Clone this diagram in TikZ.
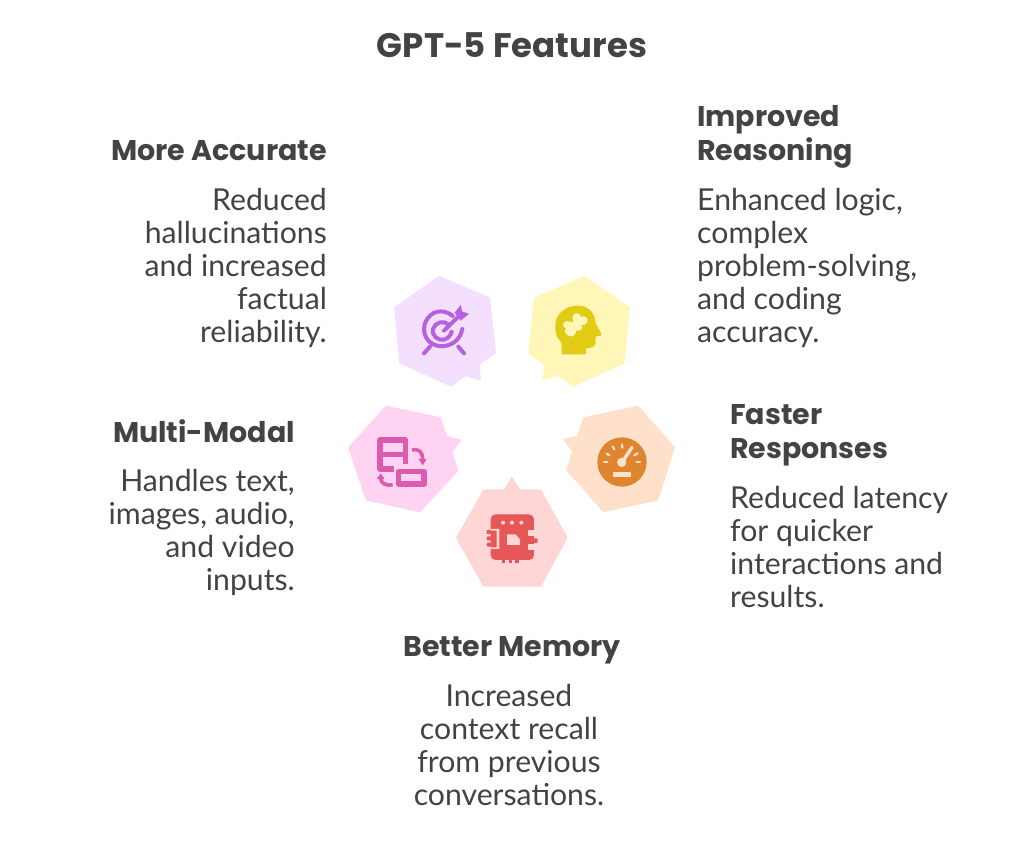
\documentclass[tikz,border=0pt]{standalone}
\usepackage{fontspec}
\setmainfont{Lato}
\newfontfamily\headfont{Poppins}
\definecolor{ink}{HTML}{434343}
\definecolor{pF}{HTML}{F5DFFF}\definecolor{pI}{HTML}{B660E0}
\definecolor{yF}{HTML}{FFF6B8}\definecolor{yI}{HTML}{E0CB15}
\definecolor{mF}{HTML}{FFD3F1}\definecolor{mI}{HTML}{DB5CAE}
\definecolor{oF}{HTML}{FFE1CB}\definecolor{oI}{HTML}{DF8530}
\definecolor{rF}{HTML}{FFD6D6}\definecolor{rI}{HTML}{E65757}
\tikzset{
  x=1pt,y=-1pt,
  titletext/.style={font=\headfont\bfseries\fontsize{34}{40}\selectfont,text=ink,inner sep=0pt},
  headtext/.style={font=\headfont\bfseries\fontsize{28.5}{34}\selectfont,text=ink,inner sep=0pt},
  bodytext/.style={font=\fontsize{30.2}{33}\selectfont,text=ink,inner sep=0pt},
  zoomed/.style={x=0.3333pt,y=-0.3333pt},
}
\begin{document}
\begin{tikzpicture}
\useasboundingbox (0,0) rectangle (1024,842);
\fill[white] (0,0) rectangle (1024,842);
% hexagons
\fill[pF] (439,275.7)--(490,297.7)--(496,353.3)--(480,364)--(480.7,380.7)--(466,376)--(451,386.7)--(399.3,363.3)--(394,307.7)--cycle;
\fill[yF] (585,275.7)--(630,307.7)--(624.3,363.3)--(573.3,386.7)--(557.3,376)--(542.7,380.7)--(544,365)--(528.3,353.3)--(534,297.7)--cycle;
\fill[mF] (385.7,405.7)--(441,417.3)--(446.7,435.7)--(461.3,440)--(452.7,452.3)--(458.3,471)--(420,512.3)--(365.7,500.3)--(348.3,447.3)--cycle;
\fill[oF] (638.3,405.7)--(675,447.3)--(658.3,500.3)--(603.3,512.3)--(566,470)--(572.3,451.7)--(563,439.3)--(577.3,435.7)--(583.3,417.3)--cycle;
\fill[rF] (511.7,476.7)--(520,489.3)--(541,489.3)--(567.7,537.7)--(541,586.7)--(483.3,586.7)--(456,537.7)--(483.3,489.3)--(504.3,489.3)--cycle;
% target icon
\begin{scope}[shift={(340,265)},zoomed,draw=pI,line width=4pt,line cap=round]
\draw (338,153) .. controls (320,137) and (285,130) .. (263,160) .. controls (243,187) and (252,225) .. (280,238) .. controls (310,252) and (345,238) .. (358,215) .. controls (364,205) and (366,198) .. (367,192);
\draw (325,178) .. controls (310,165) and (285,172) .. (279,192) .. controls (274,212) and (295,228) .. (312,224) .. controls (325,220) and (333,210) .. (335,200);
\draw (312,197)--(355,155);
\draw (270,245)--(252,265);
\draw (355,245)--(372,265);
\fill[pI] (344,143)--(362,120)--(367,140)--(387,146)--(362,167)--cycle;
\end{scope}
% head icon
\begin{scope}[shift={(515,265)},zoomed]
\fill[yI,rounded corners=1pt] (140,268)--(140,233) .. controls (125,220) and (120,200) .. (121,180) .. controls (123,145) and (155,122) .. (188,122) .. controls (215,122) and (238,140) .. (241,170) .. controls (243,180) and (258,200) .. (258,208) .. controls (258,213) and (245,213) .. (242,215) -- (241,235) .. controls (240,246) and (225,250) .. (213,249) -- (213,268) -- cycle;
\fill[yF] (176,150) .. controls (178,142) and (198,143) .. (198,156) .. controls (210,148) and (224,162) .. (216,173) .. controls (211,180) and (205,182) .. (200,180) .. controls (206,192) and (190,202) .. (184,196) .. controls (184,208) and (172,220) .. (160,212) .. controls (149,206) and (146,196) .. (154,190) .. controls (143,188) and (141,174) .. (150,170) .. controls (158,166) and (168,172) .. (175,172) .. controls (170,165) and (172,155) .. (176,150) -- cycle;
\end{scope}
% multimodal icon
\begin{scope}[shift={(340,395)},zoomed]
\draw[mI,line width=5.3pt,line join=round] (161,222)--(120,222)--(120,135)--(197,135)--(197,208);
\draw[mI,line width=5.3pt] (120,178)--(197,178);
\draw[mI,line width=5.3pt,line join=round] (176,230) rectangle (252,267);
\draw[mI,line width=3.6pt] (216,165) .. controls (238,160) and (248,172) .. (248,195);
\fill[mI] (236,192)--(260,192)--(248,211)--cycle;
\draw[mI,line width=3.6pt] (158,269) .. controls (135,274) and (122,262) .. (122,250);
\fill[mI] (110,252)--(134,252)--(122,235)--cycle;
\end{scope}
% gauge icon
\begin{scope}[shift={(515,395)},zoomed]
\fill[oI] (321,201) ellipse [x radius=74,y radius=74];
\begin{scope}[draw=oF,line width=2.2pt,line cap=round]
\draw (267,202)--(277,202);
\draw (275,176)--(283,181);
\draw (293,154)--(298,163);
\draw (321,148)--(322,158);
\draw (358,181)--(368,175);
\draw (365,202)--(375,202);
\end{scope}
\fill[oF] (320,202) ellipse [x radius=14,y radius=14];
\draw[oF,line width=3.4pt,line cap=round] (321,202)--(351,157);
\fill[oF] (293,230) rectangle (348,247);
\end{scope}
% chip icon
\begin{scope}[shift={(445,470)},zoomed]
\fill[rI,rounded corners=5pt] (137,133) rectangle (267,270);
\foreach \p in {(128,186),(128,205),(128,224)} \fill[rI,rounded corners=1pt] \p ++(-3,-6) rectangle ++(14,12);
\foreach \p in {(176,275),(196,275),(216,275)} \fill[rI] \p ++(-5,-8) rectangle ++(10,13);
\foreach \p in {(274,212)} \fill[rI,rounded corners=1pt] \p ++(-10,-7) rectangle ++(14,14);
\foreach \p in {(174,158),(201,158),(229,158)} \fill[rF] \p ellipse [x radius=6,y radius=6];
\fill[rF] (250,180) rectangle (266,197);
\fill[rF] (250,223) rectangle (266,240);
\fill[rF] (186,193)--(212,193)--(225,208)--(225,225)--(186,225)--cycle;
\fill[rF] (137,177)--(163,177)--(163,237)--(137,237)--(137,232)--(155,232)--(155,182)--(137,182)--cycle;
\end{scope}
% texts
\node[titletext,anchor=base] (title) at (512,58) {GPT-5 Features};
\node[headtext,anchor=north west,align=left] (h1) at (697,105.5) {Improved\\Reasoning};
\node[bodytext,anchor=north west,align=left] (b1) at (697,188.5) {Enhanced logic,\\complex\\problem-solving,\\and coding\\accuracy.};
\node[headtext,anchor=north east] (h2) at (327,140) {More Accurate};
\node[bodytext,anchor=north east,align=right] (b2) at (327,188.5) {Reduced\\hallucinations\\and increased\\factual\\reliability.};
\node[headtext,anchor=north west,align=left] (h3) at (730,404) {Faster\\Responses};
\node[bodytext,anchor=north west,align=left] (b3) at (730,486) {Reduced latency\\for quicker\\interactions and\\results.};
\node[headtext,anchor=north east] (h4) at (295,419) {Multi-Modal};
\node[bodytext,anchor=north east,align=right] (b4) at (295,469) {Handles text,\\images, audio,\\and video\\inputs.};
\node[headtext,anchor=north] (h5) at (512,636) {Better Memory};
\node[bodytext,anchor=north,align=center] (b5) at (509,684) {Increased\\context recall\\from previous\\conversations.};
\end{tikzpicture}
\end{document}
